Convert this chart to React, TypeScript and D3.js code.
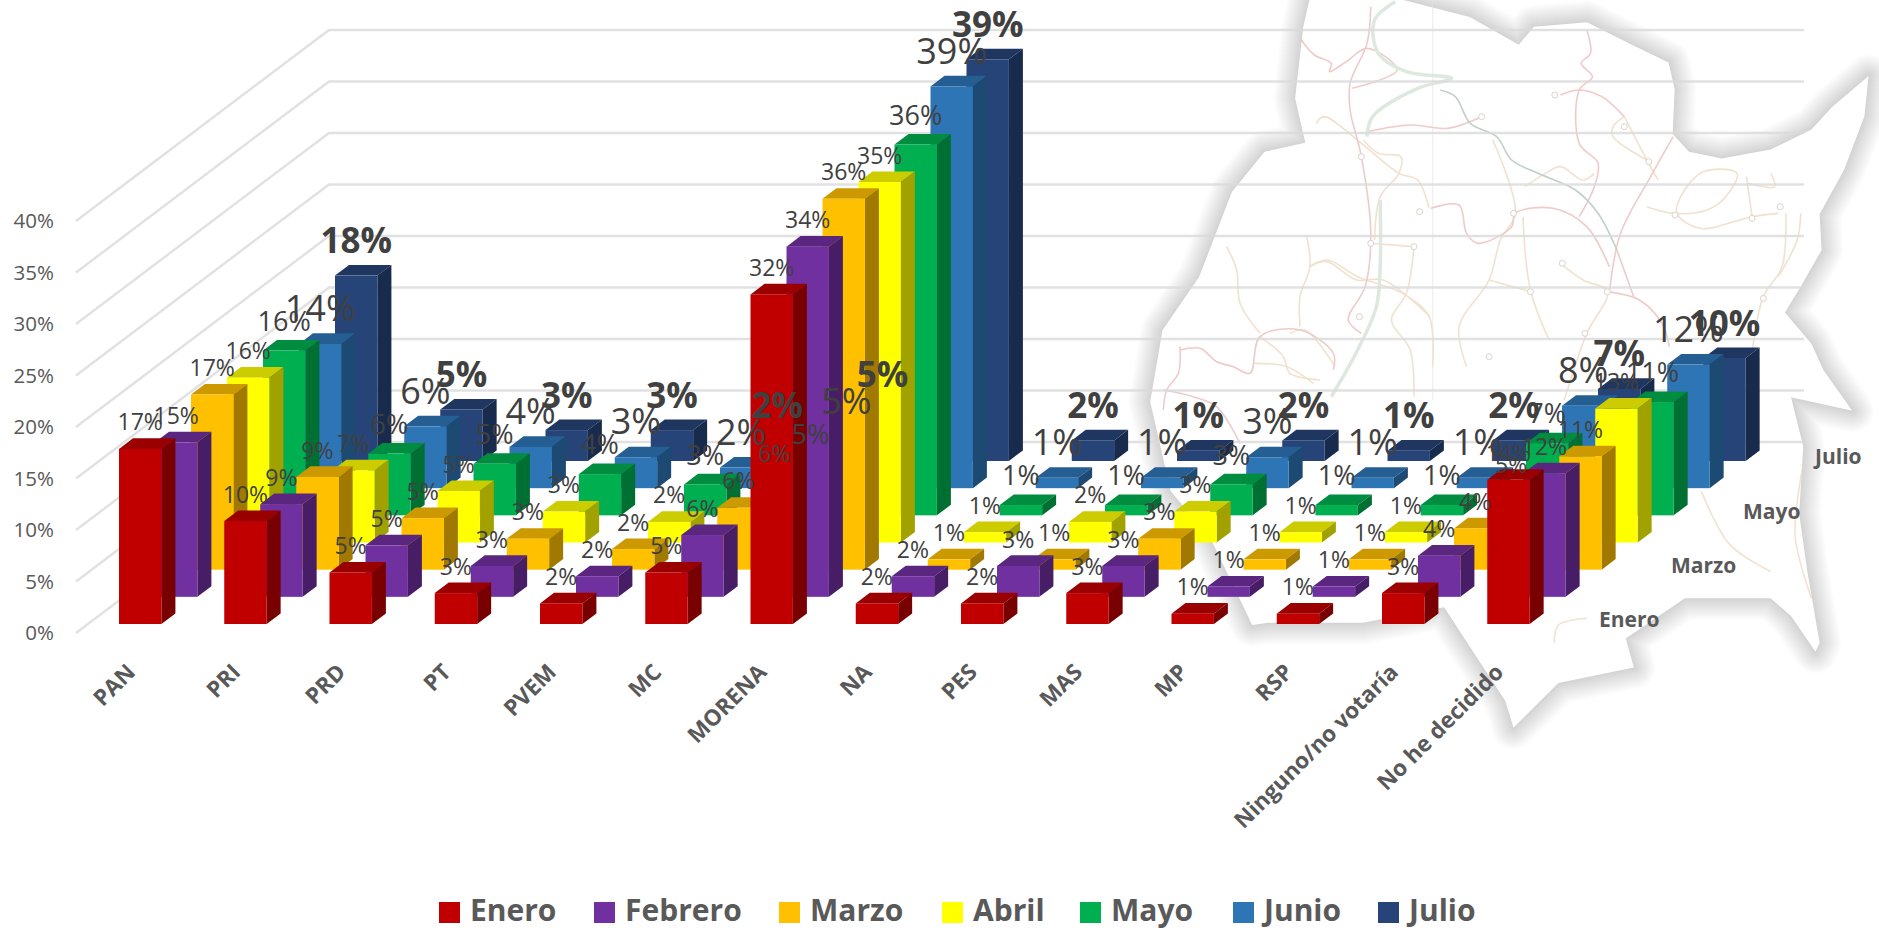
import React from 'react';
import * as d3 from 'd3';

const categories = ['PAN', 'PRI', 'PRD', 'PT', 'PVEM', 'MC', 'MORENA', 'NA', 'PES', 'MAS', 'MP', 'RSP', 'Ninguno/no votaría', 'No he decidido'];
const months = ['Enero', 'Febrero', 'Marzo', 'Abril', 'Mayo', 'Junio', 'Julio'];
const depthLabels = ['Enero', '', 'Marzo', '', 'Mayo', '', 'Julio'];
const colors = ['#C00000', '#7030A0', '#FFC000', '#FFFF00', '#00B050', '#2E75B6', '#264478'];
const ticks = [0, 5, 10, 15, 20, 25, 30, 35, 40];

const enero = [17, 10, 5, 3, 2, 5, 32, 2, 2, 3, 1, 1, 3, 14];
const febrero = [15, 9, 5, 3, 2, 6, 34, 2, 3, 3, 1, 1, 4, 12];
const marzo = [17, 9, 5, 3, 2, 6, 36, 1, 1, 3, 1, 1, 4, 11];
const abril = [16, 7, 5, 3, 2, 6, 35, 1, 2, 3, 1, 1, 5, 13];
const mayo = [16, 6, 5, 4, 3, 5, 36, 1, 1, 3, 1, 1, 7, 11];
const junio = [14, 6, 4, 3, 2, 5, 39, 1, 1, 3, 1, 1, 8, 12];
const julio = [18, 5, 3, 3, 2, 5, 39, 2, 1, 2, 1, 2, 7, 10];
const series = [enero, febrero, marzo, abril, mayo, junio, julio];

const labelSizes = [23, 23, 23, 23, 27, 36, 35];
const legendX = [439, 594, 779, 942, 1080, 1233, 1378];

const FONT = '"Open Sans", sans-serif';

// scales for the fake 3d box
const xCat = d3.scaleLinear().domain([0, 13]).range([119, 119 + 13 * 105.25]);
const rowShift = d3.scaleLinear().domain([0, 6]).range([0, 216]);
const rowBase = d3.scaleLinear().domain([0, 6]).range([624, 461]);
const barH = d3.scaleLinear().domain([0, 40]).range([0, 412]);
const gridFront = d3.scaleLinear().domain([0, 40]).range([633, 221]);
const gridBack = d3.scaleLinear().domain([0, 40]).range([442, 30]);
const barW = 42.4;
const depthX = 14;
const depthY = 10.6;

type Pt = [number, number];

// map backdrop, traced by eye from zoomed crops (each list keeps the crop's own units)
const outline: Pt[] = [
  [170, 0], [400, 0], [563, 38], [683, 100], [720, 60], [850, 50], [960, 100], [1050, 140], [1065, 200], [1060, 300],
  [1100, 340], [1180, 355], [1300, 335], [1400, 290], [1450, 240], [1540, 170], [1530, 260], [1480, 380], [1420, 480],
  [1425, 560], [1375, 640], [1335, 700], [1400, 770], [1430, 830], [1500, 920], [1400, 900], [1350, 890], [1380, 1000],
  [1370, 1150], [1390, 1280], [1420, 1440], [1410, 1460], [1350, 1380], [1300, 1340], [1090, 1340], [945, 1430], [965, 1495],
  [780, 1530], [670, 1630], [650, 1570], [550, 1430], [500, 1360], [300, 1395], [70, 1395], [30, 1400], [-70, 1210], [-170, 1100],
  [-220, 900], [-190, 740], [-100, 620], [-20, 430], [60, 340], [160, 320], [135, 220], [155, 60],
];
const pinkTop: Pt[][] = [
  [[215, 20], [205, 130], [160, 250], [160, 330], [190, 470], [215, 700], [200, 860], [155, 960], [190, 1000]],
  [[30, 120], [65, 165], [110, 190], [105, 215], [150, 185], [205, 145], [285, 210], [165, 265]],
  [[205, 395], [320, 375], [420, 385], [510, 350]],
  [[375, 625], [450, 615], [470, 700], [500, 730], [590, 680], [600, 640], [700, 625], [790, 680], [850, 800]],
  [[790, 90], [800, 160], [775, 190], [805, 230], [770, 270], [770, 430], [820, 490], [810, 560], [770, 650]],
  [[1020, 410], [960, 530], [880, 700], [850, 880]],
  [[845, 875], [930, 900], [990, 970], [1010, 1040]],
  [[870, 750], [915, 890]],
  [[720, 285], [770, 270], [830, 290], [890, 350]],
];
const tanTop: Pt[][] = [
  [[70, 370], [90, 350], [190, 430], [290, 520], [340, 540], [370, 625]],
  [[195, 420], [235, 460], [295, 470], [290, 520], [240, 590], [225, 720]],
  [[890, 350], [860, 380], [860, 410], [950, 480]],
  [[890, 350], [950, 480], [980, 540]],
  [[950, 620], [1020, 640], [1110, 630], [1160, 590], [1190, 520], [1100, 515], [1040, 590], [1030, 640], [1090, 685], [1230, 650], [1300, 640]],
  [[1215, 530], [1230, 650]],
  [[1280, 520], [1290, 560], [1220, 550]],
  [[540, 420], [600, 640], [560, 720], [530, 840], [450, 980], [470, 1100]],
  [[625, 560], [680, 520], [720, 500], [780, 540], [810, 520]],
  [[620, 650], [640, 870], [690, 1020]],
  [[720, 790], [780, 840], [845, 875], [790, 1000], [730, 1200]],
  [[50, 800], [100, 780], [180, 830], [300, 880], [370, 950], [380, 1100]],
  [[330, 740], [310, 880], [270, 960], [320, 1050], [330, 1190]],
  [[1320, 640], [1310, 800], [1260, 890], [1230, 1060]],
  [[1360, 640], [1350, 720], [1300, 830]],
  [[215, 730], [330, 740]],
  [[0, 1000], [40, 990], [120, 1100]],
  [[530, 840], [640, 875]],
];
const riversTop: Pt[][] = [
  [[280, 5], [225, 60], [235, 160], [310, 215], [430, 235], [340, 265], [220, 350], [205, 410]],
  [[240, 600], [240, 800], [230, 920], [180, 1050], [110, 1190]],
];
const tealTop: Pt[] = [[400, 270], [440, 290], [480, 370], [550, 410], [590, 480], [660, 520], [760, 570], [820, 640], [870, 750]];
const townsTop: Pt[] = [
  [510, 350], [705, 285], [890, 380], [955, 485], [1025, 645], [1230, 655], [1305, 620], [1260, 895], [845, 875],
  [595, 640], [345, 635], [215, 730], [330, 740], [185, 950], [785, 1000], [530, 1070], [725, 790], [640, 875], [190, 470],
];
const pinkLeft: Pt[][] = [
  [[240, 360], [300, 355], [350, 395], [400, 410], [450, 430], [480, 320], [600, 300], [700, 370], [700, 420]],
  [[240, 350], [235, 430], [200, 480], [190, 540]],
  [[190, 480], [280, 500], [350, 530], [420, 640]],
];
const tanLeft: Pt[][] = [
  [[380, 50], [410, 120], [420, 220], [480, 310]],
  [[620, 20], [630, 110], [600, 200], [600, 290]],
  [[630, 110], [680, 95], [770, 150], [850, 150], [990, 260]],
  [[460, 400], [560, 410], [640, 460]],
  [[480, 320], [550, 380], [570, 430], [660, 450]],
];
const tanLow: Pt[][] = [
  [[1380, 1040], [1360, 1200], [1400, 1340]],
  [[1130, 1100], [1200, 1220], [1300, 1280]],
  [[850, 1385], [780, 1400], [770, 1440]],
];

const topX = d3.scaleLinear().domain([0, 2.662]).range([1290, 1291]);
const topY = d3.scaleLinear().domain([0, 3]).range([0, 1]);
const leftX = d3.scaleLinear().domain([0, 3]).range([1100, 1101]);
const leftY = d3.scaleLinear().domain([0, 3]).range([230, 231]);
const crop3X = d3.scaleLinear().domain([0, 2.45]).range([1240, 1241]);
const crop3Y = d3.scaleLinear().domain([0, 2.24]).range([0, 1]);

const lineTop = d3.line<Pt>().x(d => topX(d[0])).y(d => topY(d[1])).curve(d3.curveCatmullRom);
const lineLeft = d3.line<Pt>().x(d => leftX(d[0])).y(d => leftY(d[1])).curve(d3.curveCatmullRom);
const lineLow = d3.line<Pt>().x(d => crop3X(d[0])).y(d => crop3Y(d[1])).curve(d3.curveCatmullRom);
const mapShape = d3.line<Pt>().x(d => crop3X(d[0])).y(d => crop3Y(d[1])).curve(d3.curveLinearClosed);

const shade = (color: string, k: number) => {
  const c = d3.rgb(color);
  return d3.rgb(c.r * k, c.g * k, c.b * k).formatHex();
};

const face = (pts: Pt[]) => {
  const p = d3.path();
  pts.forEach((pt, i) => (i ? p.lineTo(pt[0], pt[1]) : p.moveTo(pt[0], pt[1])));
  p.closePath();
  return p.toString();
};

const App: React.FC = () => {
  const rows = d3.range(6, -1, -1);
  // svg filters do not come out in the photo, so the soft map shadow is a stack of wide strokes
  const halo = d3.range(44, 0, -2);
  return (
    <svg
      width="1879"
      height="930"
      viewBox="0 0 1879 930"
      style={{ position: 'absolute', left: 0, top: 0, background: '#fff' }}
    >
      {/* Map backdrop */}
      {halo.map(w => (
        <path
          key={`halo-${w}`}
          d={mapShape(outline) as string}
          fill="none"
          stroke="#000"
          strokeOpacity="0.007"
          strokeWidth={w}
          strokeLinejoin="round"
        />
      ))}
      <path d={mapShape(outline) as string} fill="#fff" />
      <g fill="none" strokeWidth="1.6" opacity="0.7">
        <line x1={topX(380)} y1="0" x2={topX(380)} y2="400" stroke="#e4e4e4" strokeWidth="1" />
        {tanTop.map((r, i) => <path key={`tan-${i}`} d={lineTop(r) as string} stroke="#ecd6bc" />)}
        {tanLeft.map((r, i) => <path key={`tanl-${i}`} d={lineLeft(r) as string} stroke="#ecd6bc" />)}
        {tanLow.map((r, i) => <path key={`tanb-${i}`} d={lineLow(r) as string} stroke="#ecd6bc" />)}
        {pinkTop.map((r, i) => <path key={`pink-${i}`} d={lineTop(r) as string} stroke="#e8b6b4" />)}
        {pinkLeft.map((r, i) => <path key={`pinkl-${i}`} d={lineLeft(r) as string} stroke="#e8b6b4" />)}
        {riversTop.map((r, i) => <path key={`river-${i}`} d={lineTop(r) as string} stroke="#cfe0d2" strokeWidth="3.5" />)}
        <path d={lineTop(tealTop) as string} stroke="#a9bdb0" />
        {townsTop.map((t, i) => (
          <circle key={`town-${i}`} cx={topX(t[0])} cy={topY(t[1])} r="3" fill="#fff" stroke="#cdbfb4" strokeWidth="1" />
        ))}
      </g>

      {/* Grid lines on the two walls */}
      {ticks.map(t => (
        <g key={`grid-${t}`}>
          <polyline
            points={`76,${gridFront(t)} 329,${gridBack(t)} 1804,${gridBack(t)}`}
            fill="none"
            stroke="#d9d9d9"
            strokeOpacity={0.8}
            strokeWidth="2.4"
          />
          <text x="54" y={gridFront(t)} dy="0.36em" textAnchor="end" fontFamily={FONT} fontSize="20.5" fill="#595959">
            {t}%
          </text>
        </g>
      ))}

      {/* Bars, back row first */}
      {rows.map(row => (
        <g key={`row-${row}`}>
          {categories.map((_, i) => {
            const x = xCat(i) + rowShift(row);
            const y0 = rowBase(row);
            const y1 = y0 - barH(series[row][i]);
            const x1 = x + barW;
            return (
              <g key={`bar-${row}-${i}`}>
                <path
                  d={face([[x, y1], [x + depthX, y1 - depthY], [x1 + depthX, y1 - depthY], [x1, y1]])}
                  fill={shade(colors[row], 0.8)}
                />
                <path
                  d={face([[x1, y1], [x1 + depthX, y1 - depthY], [x1 + depthX, y0 - depthY], [x1, y0]])}
                  fill={shade(colors[row], 0.63)}
                />
                <rect x={x} y={y1} width={barW} height={y0 - y1} fill={colors[row]} />
              </g>
            );
          })}
        </g>
      ))}

      {/* Value labels, sit on top of every bar */}
      {months.map((m, row) => (
        <g key={`labels-${m}`} fontFamily={FONT} fill="#404040" fontSize={labelSizes[row]} fontWeight={row === 6 ? 700 : 400}>
          {categories.map((_, i) => {
            const v = series[row][i];
            return (
              <text
                key={`label-${row}-${i}`}
                x={xCat(i) + rowShift(row) + barW / 2}
                y={rowBase(row) - barH(v) - depthY - labelSizes[row] * 0.34}
                textAnchor="middle"
              >
                {v}%
              </text>
            );
          })}
        </g>
      ))}

      {/* Category labels */}
      {categories.map((c, i) => (
        <text
          key={`cat-${c}`}
          transform={`translate(${xCat(i) + 12},668) rotate(-45)`}
          textAnchor="end"
          dy="0.35em"
          fontFamily={FONT}
          fontWeight="700"
          fontSize="22.5"
          fill="#595959"
        >
          {c}
        </text>
      ))}

      {/* Depth axis labels */}
      {depthLabels.map((d, row) => (
        <text
          key={`depth-${row}`}
          x={1599 + rowShift(row)}
          y={620 - (rowBase(0) - rowBase(row))}
          dy="0.35em"
          fontFamily={FONT}
          fontWeight="700"
          fontSize="21"
          fill="#595959"
        >
          {d}
        </text>
      ))}

      {/* Legend */}
      {months.map((m, row) => (
        <g key={`legend-${m}`}>
          <rect x={legendX[row]} y="902" width="21" height="21" fill={colors[row]} />
          <text x={legendX[row] + 31} y="921" fontFamily={FONT} fontWeight="700" fontSize="30" fill="#595959">
            {m}
          </text>
        </g>
      ))}
    </svg>
  );
};

export default App;
